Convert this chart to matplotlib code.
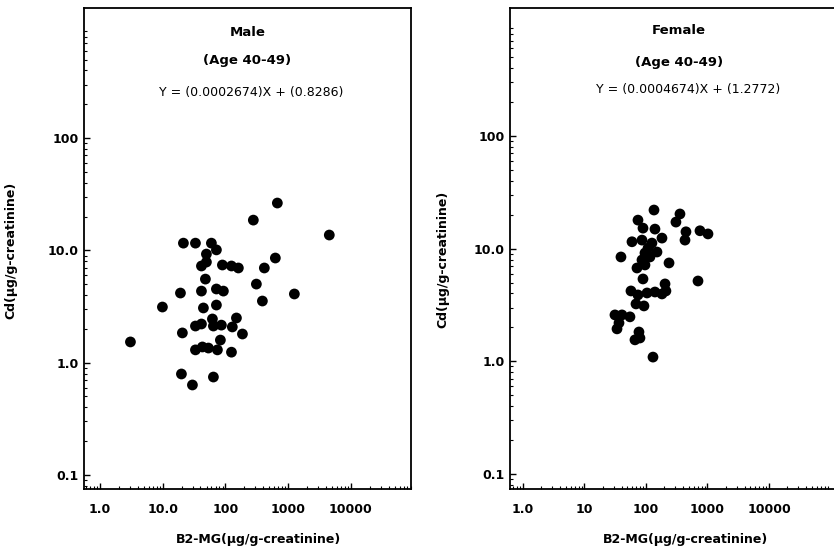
"""Cd vs B2-MG scatter plots, age 40-49, male and female."""
import numpy as np
import matplotlib
matplotlib.use('Agg')
from matplotlib import pyplot as plt
from matplotlib.ticker import FixedLocator, LogLocator, NullFormatter

# Male (Age 40-49)
male_b2mg = [674, 279, 4540, 21.4, 33.3, 59.8, 71.9, 49.8, 626, 41.5,
             49.8, 89.6, 125, 161, 418, 48.0, 19.2, 41.5, 71.9, 92.9,
             312, 389, 1259, 9.9, 44.6, 71.9, 150, 62.1, 33.3, 41.5,
             64.4, 86.3, 129, 20.6, 187, 3.06, 83.2, 33.3, 43.0, 53.6,
             74.6, 125, 19.9, 29.8, 64.4]
male_cd = [26.4, 18.6, 13.7, 11.6, 11.6, 11.6, 10.1, 9.27, 8.55, 7.26,
           7.87, 7.41, 7.26, 6.97, 6.97, 5.55, 4.17, 4.34, 4.53, 4.34,
           5.01, 3.54, 4.09, 3.13, 3.07, 3.26, 2.50, 2.45, 2.12, 2.21,
           2.12, 2.16, 2.08, 1.84, 1.80, 1.53, 1.59, 1.30, 1.38, 1.35,
           1.30, 1.24, 0.793, 0.633, 0.745]

# Female (Age 40-49)
female_b2mg = [135, 74.1, 89.4, 357, 307, 140, 182, 447, 431, 755,
               1019, 59.2, 86.1, 108, 151, 96.3, 39.2, 237, 86.1, 71.4,
               96.3, 89.4, 701, 204, 211, 57.0, 74.1, 104, 140, 182,
               68.8, 92.7, 31.3, 40.7, 54.9, 36.4, 33.8, 76.9, 66.2, 79.8,
               130, 125, 116]
female_cd = [22.0, 17.9, 15.2, 20.3, 17.2, 14.9, 12.4, 14.1, 11.9, 14.4,
             13.5, 11.5, 11.9, 10.1, 9.33, 9.14, 8.43, 7.46, 7.93, 6.73,
             7.16, 5.38, 5.16, 4.86, 4.21, 4.21, 3.88, 4.04, 4.12, 3.96,
             3.23, 3.10, 2.58, 2.58, 2.48, 2.19, 1.94, 1.82, 1.55, 1.61,
             1.09, 11.2, 8.43]

x_ticks = [1, 10, 100, 1000, 10000]
male_x_labels = ['1.0', '10.0', '100', '1000', '10000']
female_x_labels = ['1.0', '10', '100', '1000', '10000']
y_ticks = [0.1, 1, 10, 100]
y_labels = ['0.1', '1.0', '10.0', '100']

male_eq = 'Y = (0.0002674)X + (0.8286)'
female_eq = 'Y = (0.0004674)X + (1.2772)'

x_label = 'B2-MG(\u03bcg/g-creatinine)'
y_label = 'Cd(\u03bcg/g-creatinine)'

plt.rcParams['font.family'] = ['DejaVu Sans']

fig = plt.figure(figsize=(8.34, 5.56), dpi=100)
ax_m = fig.add_axes([84 / 834, 1 - 489 / 556, 327 / 834, 481 / 556])
ax_f = fig.add_axes([510 / 834, 1 - 489 / 556, 327 / 834, 481 / 556])


def style_axes(ax, xlim, ylim, xlabels, xlab_pos, ylab_pos):
    ax.set_xscale('log')
    ax.set_yscale('log')
    ax.set_xlim(*xlim)
    ax.set_ylim(*ylim)
    ax.xaxis.set_major_locator(FixedLocator(x_ticks))
    ax.yaxis.set_major_locator(FixedLocator(y_ticks))
    ax.xaxis.set_minor_locator(LogLocator(base=10, subs=np.arange(2, 10)))
    ax.yaxis.set_minor_locator(LogLocator(base=10, subs=np.arange(2, 10)))
    ax.xaxis.set_minor_formatter(NullFormatter())
    ax.yaxis.set_minor_formatter(NullFormatter())
    ax.set_xticklabels(xlabels, fontsize=9, fontweight='bold')
    ax.set_yticklabels(y_labels, fontsize=9, fontweight='bold')
    ax.tick_params(which='major', direction='in', length=4, width=1,
                   top=False, right=False)
    ax.tick_params(which='minor', direction='in', length=2.5, width=0.8,
                   top=False, right=False)
    ax.tick_params(axis='x', which='major', pad=10)
    ax.tick_params(axis='y', which='major', pad=4)
    for sp in ax.spines.values():
        sp.set_linewidth(1.3)
    ax.set_xlabel(x_label, fontsize=9, fontweight='bold')
    ax.set_ylabel(y_label, fontsize=9, fontweight='bold')
    ax.xaxis.set_label_coords(*xlab_pos)
    ax.yaxis.set_label_coords(*ylab_pos)


ax_m.scatter(male_b2mg, male_cd, s=60, c='black', edgecolors='none')
style_axes(ax_m, (0.556, 91200), (0.075, 1440), male_x_labels,
           (0.535, -0.092), (-0.205, 0.497))
ax_m.text(0.5, 0.950, 'Male', transform=ax_m.transAxes, ha='center',
          va='center', fontsize=9.5, fontweight='bold')
ax_m.text(0.5, 0.890, '(Age 40-49)', transform=ax_m.transAxes, ha='center',
          va='center', fontsize=9.5, fontweight='bold')
ax_m.text(0.51, 0.825, male_eq, transform=ax_m.transAxes, ha='center',
          va='center', fontsize=9)

ax_f.scatter(female_b2mg, female_cd, s=60, c='black', edgecolors='none')
style_axes(ax_f, (0.615, 127700), (0.0736, 1365), female_x_labels,
           (0.538, -0.092), (-0.185, 0.478))
ax_f.text(0.517, 0.954, 'Female', transform=ax_f.transAxes, ha='center',
          va='center', fontsize=9.5, fontweight='bold')
ax_f.text(0.517, 0.886, '(Age 40-49)', transform=ax_f.transAxes, ha='center',
          va='center', fontsize=9.5, fontweight='bold')
ax_f.text(0.544, 0.830, female_eq, transform=ax_f.transAxes, ha='center',
          va='center', fontsize=9)

fig.savefig('out.png', dpi=100)
